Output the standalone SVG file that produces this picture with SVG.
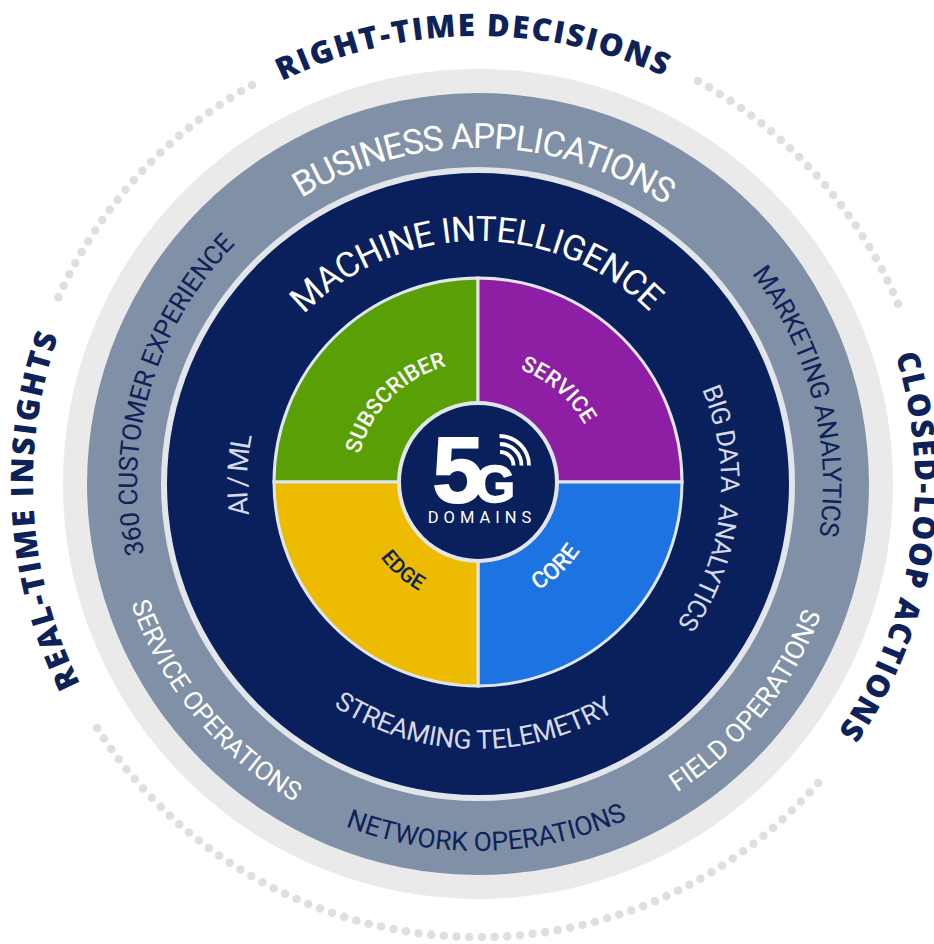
<svg xmlns="http://www.w3.org/2000/svg" width="934" height="944" viewBox="0 0 934 944">
<style>
text{font-family:Roboto,"Noto Sans","Liberation Sans",sans-serif;text-anchor:middle}
.title{font-family:"Open Sans","Noto Sans",sans-serif;font-size:31px;font-weight:800;fill:#0d2259}
.dots{fill:none;stroke:#dfdfdf;stroke-width:8.5;stroke-linecap:round;stroke-dasharray:0 12.7}
.gw{font-size:26.500px;fill:#fff}
.gn{font-size:26px;fill:#0d2259}
.nv{font-size:26.500px;fill:#d6d9e6}
.q{font-size:22px;font-weight:500;fill:#fff}
</style>
<defs>
<path id="c448" d="M478 932A448 448 0 0 1 478 36A448 448 0 0 1 478 932"/>
<path id="c445" d="M478 929A445 445 0 0 1 478 39A445 445 0 0 1 478 929"/>
<path id="c437" d="M478 921A437 437 0 0 1 478 47A437 437 0 0 1 478 921"/>
<path id="c345" d="M478 829A345 345 0 0 1 478 139A345 345 0 0 1 478 829"/>
<path id="c341" d="M478 825A341 341 0 0 1 478 143A341 341 0 0 1 478 825"/>
<path id="c336" d="M478 820A336 336 0 0 1 478 148A336 336 0 0 1 478 820"/>
<path id="c243" d="M478 727A243 243 0 0 1 478 241A243 243 0 0 1 478 727"/>
<path id="c231" d="M478 715A231 231 0 0 1 478 253A231 231 0 0 1 478 715"/>
<path id="c122" d="M478 606A122 122 0 0 1 478 362A122 122 0 0 1 478 606"/>
<path id="a367" d="M478 117A367 367 0 0 0 478 851A367 367 0 0 0 478 117"/>
<path id="a265" d="M478 219A265 265 0 0 0 478 749A265 265 0 0 0 478 219"/>
<path id="a122" d="M478 362A122 122 0 0 0 478 606A122 122 0 0 0 478 362"/>
</defs>
<g id="rings">
<circle cx="478" cy="484" r="403" fill="none" stroke="#eaeaeb" stroke-width="24"/>
<circle cx="478" cy="484" r="391" fill="#8090a6"/>
<circle cx="478" cy="484" r="317" fill="#e2e6ea"/>
<circle cx="478" cy="484" r="311" fill="#0a205c"/>
</g>
<g id="dotted-arcs">
<path class="dots" d="M698 81A458 458 0 0 1 901 311"/>
<path class="dots" d="M252 85A458 458 0 0 0 58 298"/>
<path class="dots" d="M97 728A452 452 0 0 0 825 775"/>
</g>
<g id="outer-labels">
<text class="title" style="letter-spacing:1.900px" transform="rotate(-0.600 478 484)"><textPath href="#c448" startOffset="50%">RIGHT-TIME DECISIONS</textPath></text>
<text class="title" style="letter-spacing:2.200px" transform="rotate(-93.500 478 484)"><textPath href="#c445" startOffset="50%">REAL-TIME INSIGHTS</textPath></text>
<text class="title" style="letter-spacing:1.600px" transform="rotate(98.800 478 484)"><textPath href="#c437" startOffset="50%">CLOSED-LOOP ACTIONS</textPath></text>
</g>
<g id="business-applications">
<text class="gw" style="font-size:35px;letter-spacing:-1.200px" transform="rotate(1 478 484)"><textPath href="#c336" startOffset="50%">BUSINESS APPLICATIONS</textPath></text>
<text class="gn" style="letter-spacing:-0.300px" transform="rotate(-73.600 478 484)"><textPath href="#c341" startOffset="50%">360 CUSTOMER EXPERIENCE</textPath></text>
<text class="gn" style="letter-spacing:-0.500px" transform="rotate(75.500 478 484)"><textPath href="#c345" startOffset="50%">MARKETING ANALYTICS</textPath></text>
<text class="gw" transform="rotate(-51 478 484)"><textPath href="#a367" startOffset="50%">FIELD OPERATIONS</textPath></text>
<text class="gn" style="font-size:26.500px" transform="rotate(-1.400 478 484)"><textPath href="#a367" startOffset="50%">NETWORK OPERATIONS</textPath></text>
<text class="gw" style="font-size:26px" transform="rotate(50.500 478 484)"><textPath href="#a367" startOffset="50%">SERVICE OPERATIONS</textPath></text>
</g>
<g id="machine-intelligence">
<text style="font-size:35px;letter-spacing:-0.700px;fill:#fff" transform="rotate(-0.500 478 484)"><textPath href="#c243" startOffset="50%">MACHINE INTELLIGENCE</textPath></text>
<text class="nv" style="font-size:28px;letter-spacing:-1.800px" transform="rotate(-88 478 484)"><textPath href="#c231" startOffset="50%">AI / ML</textPath></text>
<text class="nv" style="font-size:26px;letter-spacing:-0.700px" transform="rotate(96 478 484)"><textPath href="#c243" startOffset="50%" xml:space="preserve">BIG DATA  ANALYTICS</textPath></text>
<text class="nv" style="letter-spacing:-0.200px" transform="rotate(1.100 478 484)"><textPath href="#a265" startOffset="50%">STREAMING TELEMETRY</textPath></text>
</g>
<g id="domains">
<path id="subscriber" d="M478 482V278A204 204 0 0 0 274 482Z" fill="#58a005" stroke="#e2e6ea" stroke-width="3"/>
<path id="service" d="M478 482V278A204 204 0 0 1 682 482Z" fill="#8e1fa5" stroke="#e2e6ea" stroke-width="3"/>
<path id="core" d="M478 482V686A204 204 0 0 0 682 482Z" fill="#1e73e3" stroke="#e2e6ea" stroke-width="3"/>
<path id="edge" d="M478 482V686A204 204 0 0 1 274 482Z" fill="#edbb00" stroke="#e2e6ea" stroke-width="3"/>
<text class="q" transform="rotate(-45.400 478 484)"><textPath href="#c122" startOffset="50%">SUBSCRIBER</textPath></text>
<text class="q" transform="rotate(40.500 478 484)"><textPath href="#c122" startOffset="50%">SERVICE</textPath></text>
<text class="q" style="font-size:23px" transform="rotate(-43 478 484)"><textPath href="#a122" startOffset="50%">CORE</textPath></text>
<text class="q" style="font-size:21px;fill:#0d2259" transform="rotate(41 478 484)"><textPath href="#a122" startOffset="50%">EDGE</textPath></text>
</g>
<g id="hub">
<circle cx="478" cy="482" r="79" fill="#0a205c" stroke="#e2e6ea" stroke-width="4"/>
<text x="458" y="502" style="font-family:'Liberation Sans',sans-serif;font-weight:700;font-size:92px;fill:#fff;stroke:#fff;stroke-width:2">5</text>
<text x="495" y="502" style="font-family:'Liberation Sans',sans-serif;font-weight:700;font-size:52px;fill:#fff;stroke:#fff;stroke-width:1.500">G</text>
<path d="M499.500 436A29.500 29.500 0 0 1 529 465.500M500 444A21.500 21.500 0 0 1 521.500 465.500M500 452A13.500 13.500 0 0 1 513.500 465.500" fill="none" stroke="#fff" stroke-width="3.800"/>
<text x="482" y="523" style="font-size:16.500px;letter-spacing:5px;fill:#fff">DOMAINS</text>
</g>
</svg>
